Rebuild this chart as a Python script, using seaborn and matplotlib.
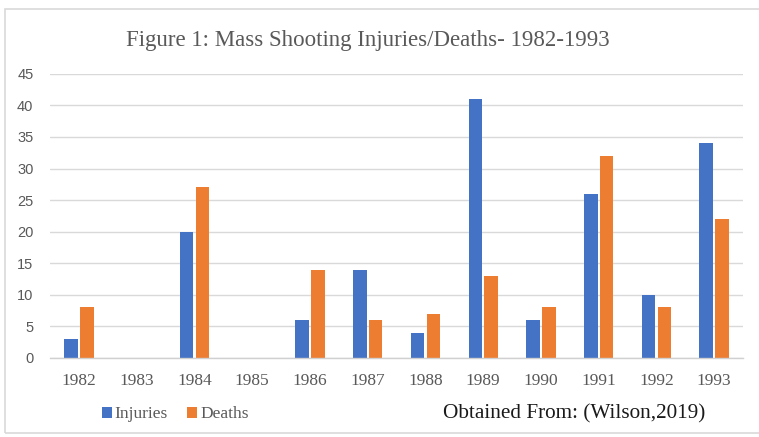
import matplotlib
matplotlib.use("Agg")
import matplotlib.pyplot as plt
import seaborn as sns
import pandas as pd
from matplotlib.patches import Rectangle, Patch

years = ["1982", "1983", "1984", "1985", "1986", "1987", "1988", "1989", "1990", "1991", "1992", "1993"]
injuries = [3, 0, 20, 0, 6, 14, 4, 41, 6, 26, 10, 34]
deaths = [8, 0, 27, 0, 14, 6, 7, 13, 8, 32, 8, 22]
series = ["Injuries", "Deaths"]
colors = ["#4472C4", "#ED7D31"]

df = pd.DataFrame({
    "Year": years * 2,
    "Value": injuries + deaths,
    "Series": [series[0]] * len(years) + [series[1]] * len(years),
})

sns.set_theme(style="white")
serif = ["Liberation Serif", "DejaVu Serif"]
sans = ["Liberation Sans", "DejaVu Sans"]

fig = plt.figure(figsize=(7.59, 4.37), dpi=100)
ax = fig.add_axes([0.066, 0.181, 0.913, 0.650])

sns.barplot(data=df, x="Year", y="Value", hue="Series", palette=colors,
            width=0.55, gap=0.15, ax=ax, legend=False, saturation=1, linewidth=0)

ax.set_ylim(0, 45)
ax.set_yticks(range(0, 46, 5))
ax.set_xlim(-0.5, len(years) - 0.5)
ax.set_xlabel("")
ax.set_ylabel("")
ax.yaxis.grid(True, color="#D9D9D9", linewidth=1)
ax.set_axisbelow(True)
for s in ["top", "right", "left"]:
    ax.spines[s].set_visible(False)
ax.spines["bottom"].set_color("#D0D0D0")
ax.spines["bottom"].set_linewidth(1)
ax.tick_params(axis="both", length=0)
ax.tick_params(axis="x", pad=11)
ax.tick_params(axis="y", pad=12)
for lab in ax.get_xticklabels():
    lab.set_fontfamily(serif)
    lab.set_fontsize(12.5)
    lab.set_color("#595959")
for lab in ax.get_yticklabels():
    lab.set_fontfamily(sans)
    lab.set_fontsize(10.5)
    lab.set_color("#595959")

fig.text(0.485, 0.908, "Figure 1: Mass Shooting Injuries/Deaths- 1982-1993",
         ha="center", va="center", fontsize=16.5, family=serif, color="#595959")

handles = [Patch(facecolor=c, edgecolor="none") for c in colors]
leg = fig.legend(handles, series, loc="center left", bbox_to_anchor=(0.134, 0.052),
                 ncol=2, frameon=False, prop={"family": serif, "size": 12.5},
                 handlelength=0.6, handleheight=0.6, handletextpad=0.15, columnspacing=1.1,
                 borderpad=0, borderaxespad=0)
for t in leg.get_texts():
    t.set_color("#595959")

fig.text(0.757, 0.052, "Obtained From: (Wilson,2019)", ha="center", va="center",
         fontsize=15.3, family=serif, color="#1a1a1a")

fig.add_artist(Rectangle((0.007, 0.01), 1.1, 0.97, transform=fig.transFigure,
                         fill=False, edgecolor="#D9D9D9", linewidth=1.2))

fig.savefig("out.png", dpi=100)
